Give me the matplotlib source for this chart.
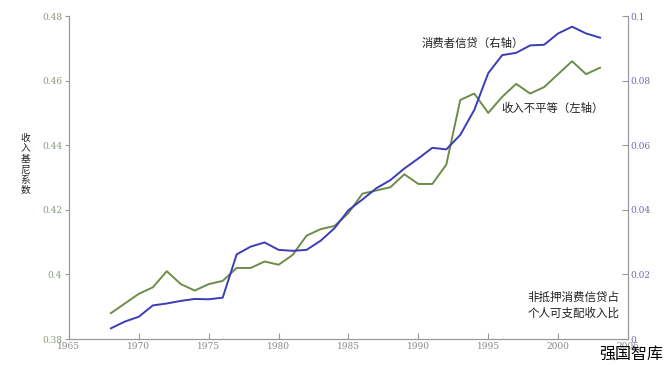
import matplotlib.pyplot as plt

plt.rcParams['font.family'] = ['Noto Sans CJK SC', 'DejaVu Sans']

# 数据
years = list(range(1968, 2004))
gini = [0.388, 0.391, 0.394, 0.396, 0.401, 0.397, 0.395, 0.397, 0.398, 0.402,
        0.402, 0.404, 0.403, 0.406, 0.412, 0.414, 0.415, 0.419, 0.425, 0.426,
        0.427, 0.431, 0.428, 0.428, 0.434, 0.454, 0.456, 0.450, 0.455, 0.459,
        0.456, 0.458, 0.462, 0.466, 0.462, 0.464]
credit = [0.0033, 0.0054, 0.0069, 0.0104, 0.0110, 0.0118, 0.0124, 0.0123, 0.0128, 0.0262,
          0.0286, 0.0299, 0.0276, 0.0273, 0.0276, 0.0304, 0.0343, 0.0399, 0.0432, 0.0467,
          0.0492, 0.0528, 0.0559, 0.0592, 0.0587, 0.0632, 0.0709, 0.0823, 0.0879, 0.0886,
          0.0909, 0.0911, 0.0946, 0.0967, 0.0946, 0.0933]

left_ticks = [0.38, 0.4, 0.42, 0.44, 0.46, 0.48]
left_labels = ['0.38', '0.4', '0.42', '0.44', '0.46', '0.48']
right_ticks = [0, 0.02, 0.04, 0.06, 0.08, 0.1]
right_labels = ['0', '0.02', '0.04', '0.06', '0.08', '0.1']
x_ticks = list(range(1965, 2006, 5))

green = '#6e8c48'
blue = '#3c3cb8'
serif = ['DejaVu Serif']

fig = plt.figure(figsize=(6.67, 3.65), dpi=100)
ax = fig.add_axes([0.1034, 0.0712, 0.8381, 0.8849])
ax2 = ax.twinx()

ax.plot(years, gini, color=green, lw=1.4)
ax2.plot(years, credit, color=blue, lw=1.4)

ax.set_xlim(1965, 2005)
ax.set_ylim(0.38, 0.48)
ax2.set_ylim(0, 0.1)

ax.set_xticks(x_ticks)
ax.set_xticklabels([str(x) for x in x_ticks], fontsize=6.5, family=serif, color='#888888')
ax.set_yticks(left_ticks)
ax.set_yticklabels(left_labels, fontsize=6.5, family=serif, color='#8a9a7a')
ax2.set_yticks(right_ticks)
ax2.set_yticklabels(right_labels, fontsize=6.5, family=serif, color='#6a6aa8')

ax.tick_params(axis='x', direction='in', length=4, color='#999999', pad=2)
ax.tick_params(axis='y', direction='out', length=3, color='#999999', pad=2)
ax2.tick_params(axis='y', direction='in', length=4, color='#999999', pad=2)

for a in (ax, ax2):
    a.spines['top'].set_visible(False)
    for s in ('left', 'right', 'bottom'):
        a.spines[s].set_color('#999999')
        a.spines[s].set_linewidth(0.8)

# 纵轴标题（竖排）
fig.text(0.038, 0.55, '\n'.join('收入基尼系数'), fontsize=7, ha='center', va='center',
         linespacing=1.05, color='#222222')

# 标注
ax2.text(1990.2, 0.0915, '消费者信贷（右轴）', fontsize=8.2, color='#222222', va='center')
ax2.text(1995.9, 0.0715, '收入不平等（左轴）', fontsize=8.2, color='#222222', va='center')
ax2.text(2004.4, 0.0105, '非抵押消费信贷占\n个人可支配收入比', fontsize=8.3, color='#222222',
         ha='right', va='center', linespacing=1.25)

# 水印
fig.text(0.995, 0.005, '强国智库', fontsize=11.5, ha='right', va='bottom', color='#000000')

fig.savefig('out.png', dpi=100)
